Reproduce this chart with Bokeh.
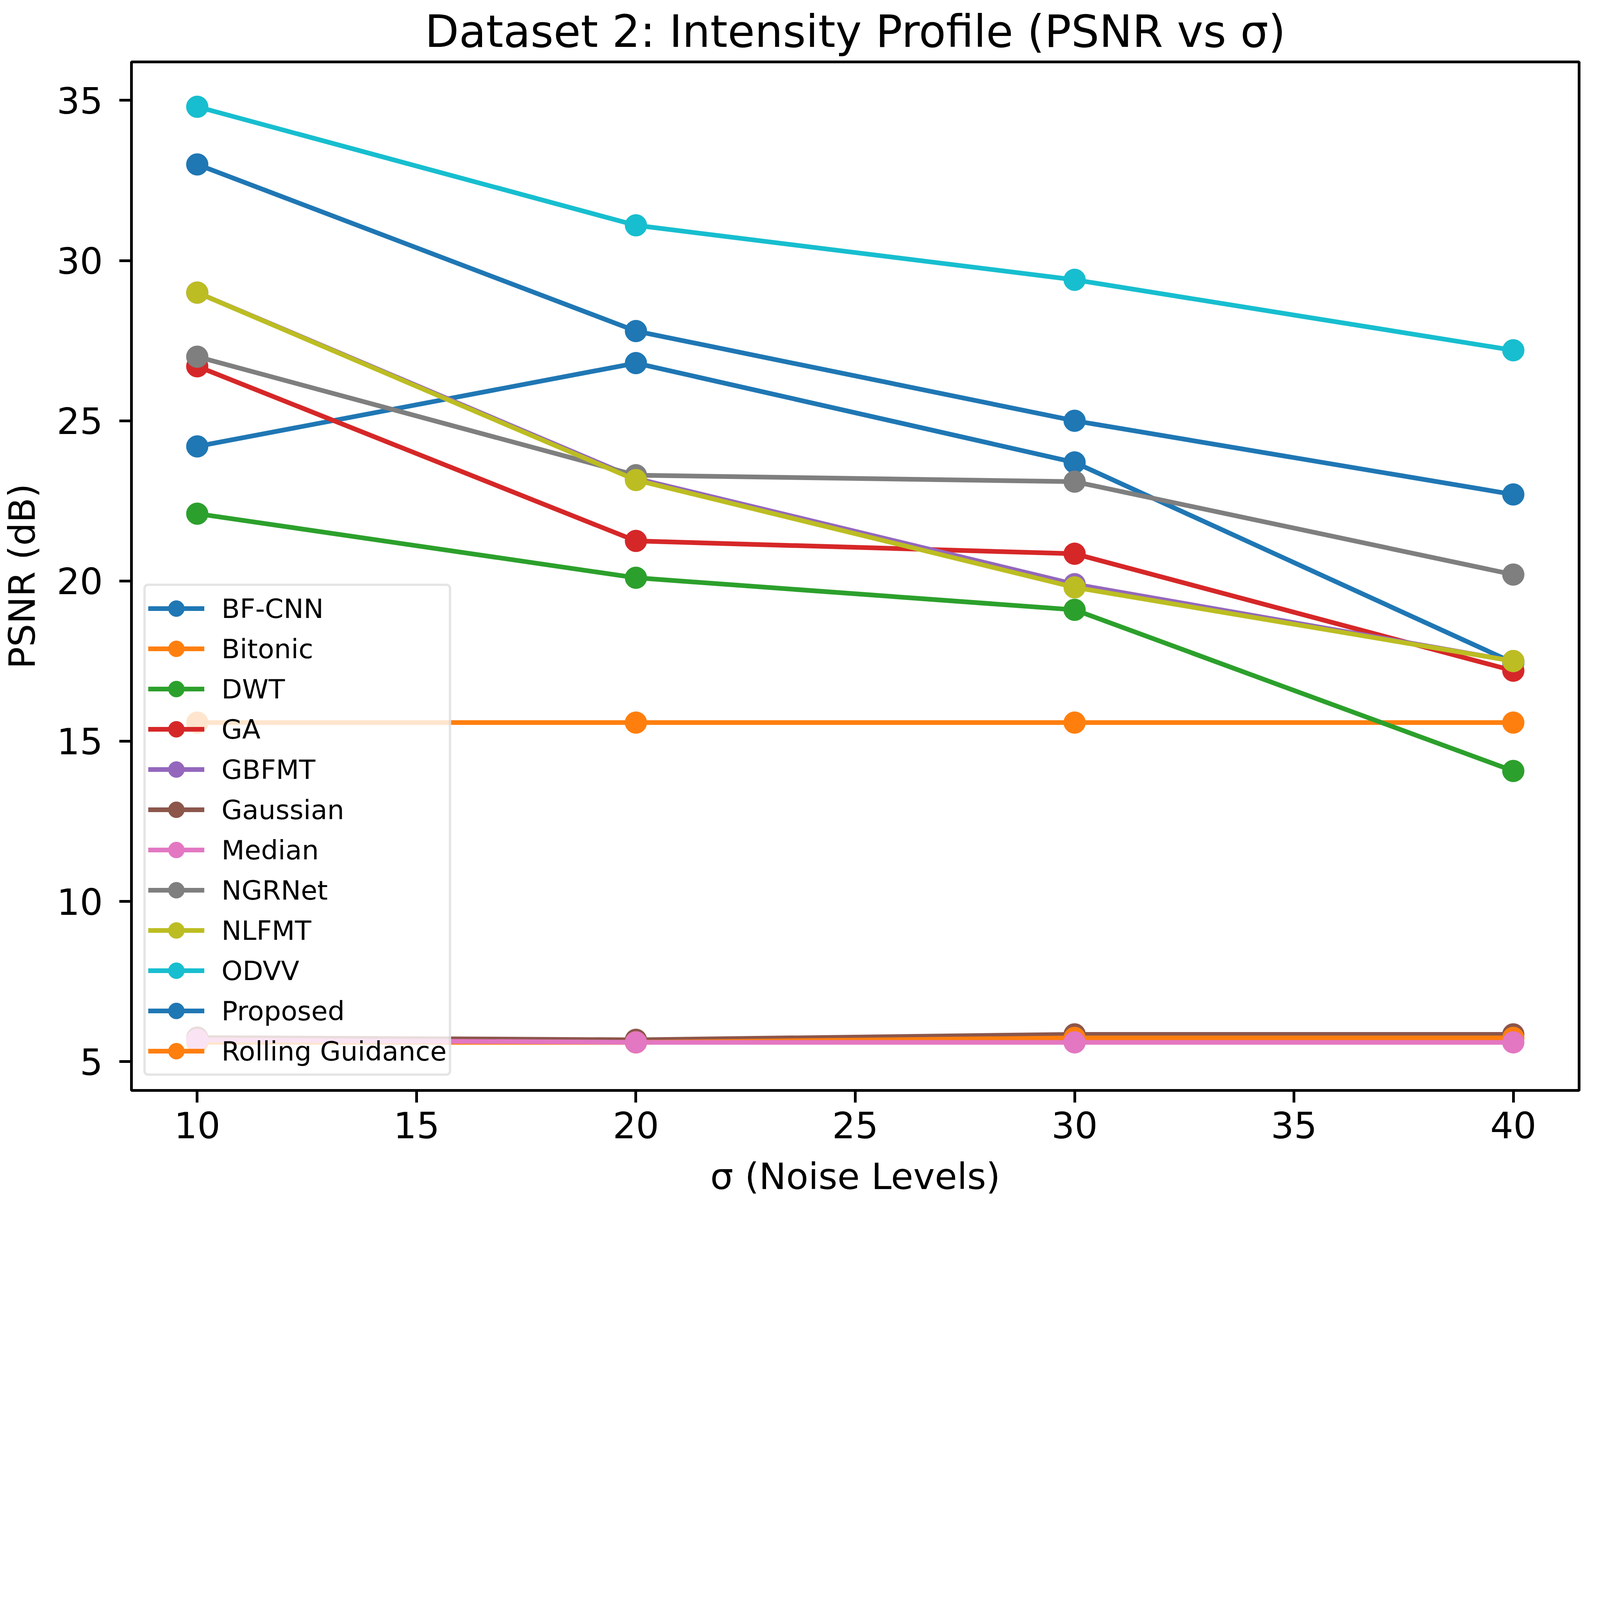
from bokeh.plotting import figure
from bokeh.models import Range1d, FixedTicker, Legend, LegendItem
from bokeh.embed import file_html
from bokeh.resources import INLINE

# ---- data ----
sigma = [10, 20, 30, 40]
bf_cnn = [24.2, 26.8, 23.7, 17.45]
bitonic = [15.58, 15.58, 15.58, 15.58]
dwt = [22.1, 20.1, 19.1, 14.07]
ga = [26.7, 21.25, 20.85, 17.2]
gbfmt = [29.0, 23.2, 19.9, 17.5]
gaussian = [5.75, 5.68, 5.85, 5.85]
median = [5.68, 5.6, 5.6, 5.6]
ngrnet = [27.0, 23.3, 23.1, 20.2]
nlfmt = [29.0, 23.15, 19.8, 17.5]
odvv = [34.8, 31.1, 29.4, 27.2]
proposed = [33.0, 27.8, 25.0, 22.7]
rolling_guidance = [5.6, 5.6, 5.74, 5.74]

methods = ["BF-CNN", "Bitonic", "DWT", "GA", "GBFMT", "Gaussian", "Median",
           "NGRNet", "NLFMT", "ODVV", "Proposed", "Rolling Guidance"]
values = [bf_cnn, bitonic, dwt, ga, gbfmt, gaussian, median,
          ngrnet, nlfmt, odvv, proposed, rolling_guidance]
colors = ["#1f77b4", "#ff7f0e", "#2ca02c", "#d62728", "#9467bd", "#8c564b",
          "#e377c2", "#7f7f7f", "#bcbd22", "#17becf", "#1f77b4", "#ff7f0e"]
draw_order = ["BF-CNN", "Bitonic", "DWT", "GA", "GBFMT", "Gaussian",
              "Rolling Guidance", "Median", "NGRNet", "NLFMT", "ODVV", "Proposed"]
x_ticks = [10, 15, 20, 25, 30, 35, 40]
y_ticks = [5, 10, 15, 20, 25, 30, 35]

FONT = "DejaVu Sans"
K = 0.612  # overall size scale


def px(v):
    return int(round(v * K))


def fs(v):
    return "%.1fpx" % (v * K)


p = figure(frame_width=px(6056), frame_height=px(4303),
           output_backend="svg", toolbar_location=None,
           x_range=Range1d(8.5, 41.5), y_range=Range1d(4.1, 36.2),
           min_border_left=px(532), min_border_right=px(12),
           min_border_top=px(244), min_border_bottom=px(465))
p.background_fill_color = "white"
p.border_fill_color = "white"
p.grid.visible = False
p.outline_line_color = "black"
p.outline_line_width = px(11)

p.title.text = "Dataset 2: Intensity Profile (PSNR vs \u03c3)"
p.title.text_font = FONT
p.title.text_font_size = fs(185)
p.title.text_font_style = "normal"
p.title.text_color = "black"
p.title.align = "center"
p.title.standoff = px(40)

for ax in (p.xaxis[0], p.yaxis[0]):
    ax.axis_line_width = px(11)
    ax.axis_line_color = "black"
    ax.major_tick_line_width = px(11)
    ax.major_tick_line_color = "black"
    ax.major_tick_in = 0
    ax.major_tick_out = px(50)
    ax.minor_tick_line_color = None
    ax.major_label_text_font = FONT
    ax.major_label_text_font_size = fs(152)
    ax.major_label_text_color = "black"
    ax.axis_label_text_font = FONT
    ax.axis_label_text_font_size = fs(152)
    ax.axis_label_text_font_style = "normal"
    ax.axis_label_text_color = "black"

p.xaxis[0].ticker = FixedTicker(ticks=x_ticks)
p.yaxis[0].ticker = FixedTicker(ticks=y_ticks)
p.xaxis[0].axis_label = "\u03c3 (Noise Levels)"
p.yaxis[0].axis_label = "PSNR (dB)"
p.xaxis[0].major_label_standoff = px(37)
p.xaxis[0].axis_label_standoff = px(67)
p.yaxis[0].major_label_standoff = px(68)
p.yaxis[0].axis_label_standoff = px(50)

renderers = {}
for name in draw_order:
    i = methods.index(name)
    ln = p.line(sigma, values[i], line_color=colors[i], line_width=px(20))
    sc = p.scatter(sigma, values[i], marker="circle", size=px(92),
                   fill_color=colors[i], line_color=colors[i], line_width=1)
    renderers[name] = [ln, sc]

items = [LegendItem(label=name, renderers=renderers[name]) for name in methods]
legend = Legend(items=items, location=(px(51), px(61)))
legend.label_text_font = FONT
legend.label_text_font_size = fs(112)
legend.label_text_color = "black"
legend.glyph_width = px(236)
legend.glyph_height = px(168)
legend.label_height = px(168)
legend.spacing = 0
legend.padding = px(10)
legend.margin = 0
legend.label_standoff = px(72)
legend.border_line_color = "#cccccc"
legend.border_line_width = px(10)
legend.border_radius = px(20)
legend.background_fill_color = "white"
legend.background_fill_alpha = 0.8
p.add_layout(legend, "center")

open("out.html", "w").write(file_html(p, INLINE))
